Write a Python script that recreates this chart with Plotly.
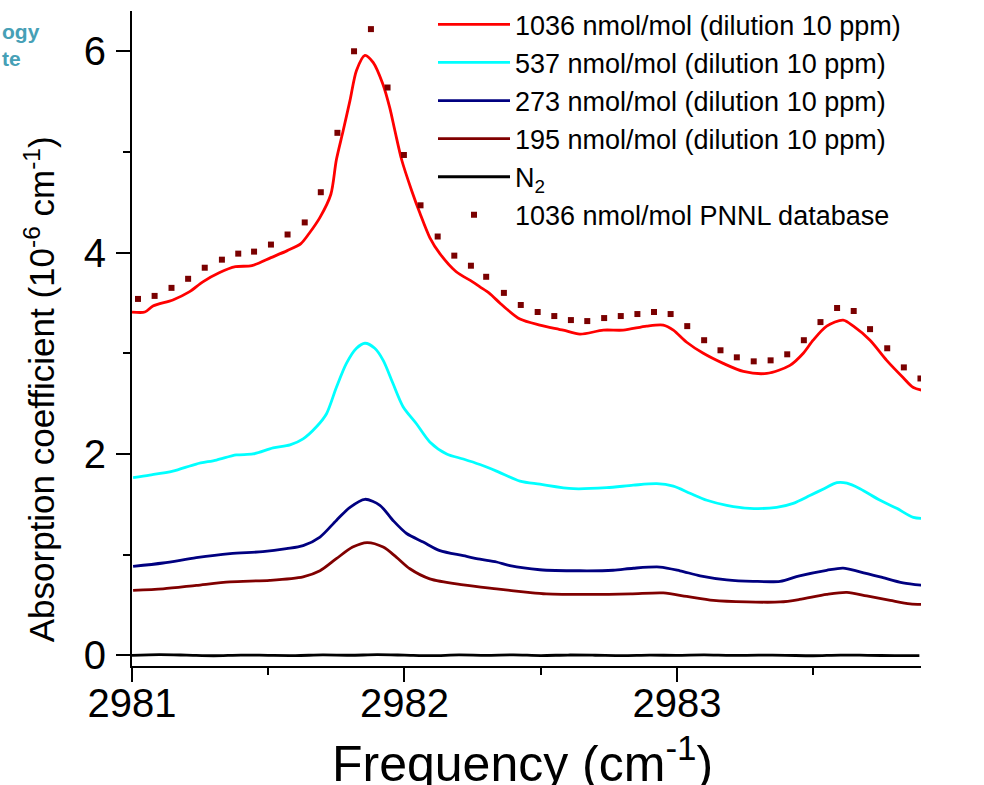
import plotly.graph_objects as go

# ---------------- data ----------------
red_x = [2981.00, 2981.047, 2981.077, 2981.15, 2981.21, 2981.26, 2981.32, 2981.38, 2981.44, 2981.51,
         2981.57, 2981.62, 2981.65, 2981.69, 2981.73, 2981.75, 2981.775, 2981.80, 2981.824, 2981.855,
         2981.885, 2981.92, 2981.946, 2981.965, 2981.99, 2982.026, 2982.057, 2982.093, 2982.13, 2982.19,
         2982.25, 2982.277, 2982.31, 2982.35, 2982.375, 2982.424, 2982.497, 2982.583, 2982.644, 2982.73,
         2982.803, 2982.889, 2982.95, 2982.987, 2983.036, 2983.097, 2983.17, 2983.244, 2983.33, 2983.415,
         2983.464, 2983.50, 2983.55, 2983.61, 2983.648, 2983.709, 2983.77, 2983.83, 2983.868, 2983.923]
red_y = [3.41, 3.41, 3.47, 3.53, 3.61, 3.71, 3.80, 3.86, 3.87, 3.95,
         4.02, 4.09, 4.19, 4.35, 4.58, 4.92, 5.21, 5.51, 5.81, 5.96,
         5.89, 5.68, 5.44, 5.21, 4.92, 4.62, 4.39, 4.15, 3.99, 3.81,
         3.71, 3.66, 3.60, 3.50, 3.44, 3.34, 3.28, 3.23, 3.19, 3.23,
         3.23, 3.27, 3.28, 3.23, 3.11, 3.00, 2.90, 2.82, 2.80, 2.88,
         3.00, 3.13, 3.27, 3.33, 3.27, 3.13, 2.93, 2.76, 2.66, 2.62]

cyan_x = [2981.004, 2981.065, 2981.15, 2981.236, 2981.31, 2981.383, 2981.444, 2981.518, 2981.58, 2981.628,
          2981.677, 2981.714, 2981.75, 2981.787, 2981.824, 2981.855, 2981.891, 2981.922, 2981.958, 2981.995,
          2982.044, 2982.093, 2982.155, 2982.216, 2982.277, 2982.338, 2982.424, 2982.497, 2982.62, 2982.742,
          2982.84, 2982.926, 2982.987, 2983.048, 2983.11, 2983.183, 2983.268, 2983.366, 2983.427, 2983.49,
          2983.54, 2983.587, 2983.624, 2983.672, 2983.746, 2983.807, 2983.868, 2983.923]
cyan_y = [1.765, 1.79, 1.83, 1.90, 1.94, 1.99, 2.00, 2.06, 2.09, 2.15,
          2.27, 2.40, 2.66, 2.90, 3.05, 3.10, 3.05, 2.93, 2.70, 2.47,
          2.30, 2.12, 2.00, 1.95, 1.895, 1.83, 1.73, 1.70, 1.655, 1.665,
          1.69, 1.705, 1.68, 1.61, 1.54, 1.49, 1.46, 1.47, 1.51, 1.59,
          1.655, 1.715, 1.71, 1.655, 1.54, 1.46, 1.37, 1.36]

navy_x = [2981.004, 2981.114, 2981.236, 2981.36, 2981.48, 2981.567, 2981.628, 2981.69, 2981.75, 2981.80,
          2981.855, 2981.91, 2981.958, 2982.008, 2982.069, 2982.13, 2982.216, 2982.277, 2982.338, 2982.387,
          2982.497, 2982.644, 2982.766, 2982.84, 2982.938, 2983.011, 2983.085, 2983.183, 2983.28, 2983.379,
          2983.45, 2983.55, 2983.61, 2983.672, 2983.746, 2983.83, 2983.923]
navy_y = [0.884, 0.917, 0.97, 1.01, 1.03, 1.06, 1.09, 1.175, 1.34, 1.47,
          1.55, 1.49, 1.34, 1.21, 1.125, 1.04, 0.99, 0.955, 0.927, 0.89,
          0.85, 0.84, 0.845, 0.865, 0.877, 0.84, 0.79, 0.75, 0.735, 0.735,
          0.79, 0.845, 0.867, 0.83, 0.78, 0.72, 0.69]

maroon_x = [2981.004, 2981.114, 2981.236, 2981.36, 2981.506, 2981.628, 2981.69, 2981.75, 2981.81, 2981.863,
            2981.922, 2981.97, 2982.02, 2982.093, 2982.216, 2982.338, 2982.454, 2982.52, 2982.68, 2982.83,
            2982.95, 2983.036, 2983.134, 2983.256, 2983.379, 2983.45, 2983.55, 2983.624, 2983.697, 2983.783,
            2983.856, 2983.923]
maroon_y = [0.645, 0.66, 0.695, 0.73, 0.745, 0.78, 0.84, 0.96, 1.075, 1.12,
            1.075, 0.976, 0.86, 0.76, 0.70, 0.66, 0.625, 0.61, 0.605, 0.61,
            0.62, 0.585, 0.545, 0.53, 0.53, 0.555, 0.605, 0.625, 0.59, 0.545,
            0.51, 0.505]

n2_x = [2981.00, 2981.10, 2981.20, 2981.30, 2981.40, 2981.50, 2981.60, 2981.70, 2981.80, 2981.90,
        2982.00, 2982.10, 2982.20, 2982.30, 2982.40, 2982.50, 2982.60, 2982.70, 2982.80, 2982.90,
        2983.00, 2983.10, 2983.20, 2983.30, 2983.40, 2983.50, 2983.60, 2983.70, 2983.80, 2983.89]
n2_y = [0.000, 0.006, 0.002, -0.004, 0.003, 0.000, -0.002, 0.004, 0.001, 0.006,
        0.002, -0.003, 0.004, 0.000, 0.005, -0.002, 0.003, 0.001, -0.003, 0.002,
        0.000, 0.004, -0.001, 0.002, 0.000, -0.004, 0.003, 0.000, -0.003, -0.002]

pnnl_x = [2981.022, 2981.083, 2981.145, 2981.206, 2981.267, 2981.33, 2981.39, 2981.448, 2981.51, 2981.571,
          2981.634, 2981.693, 2981.754, 2981.815, 2981.877, 2981.938, 2981.998, 2982.059, 2982.122, 2982.183,
          2982.244, 2982.30, 2982.365, 2982.427, 2982.489, 2982.55, 2982.611, 2982.671, 2982.733, 2982.794,
          2982.855, 2982.916, 2982.977, 2983.038, 2983.10, 2983.16, 2983.22, 2983.282, 2983.344, 2983.405,
          2983.466, 2983.527, 2983.588, 2983.649, 2983.709, 2983.772, 2983.833, 2983.894]
pnnl_y = [3.54, 3.57, 3.65, 3.74, 3.85, 3.93, 3.99, 4.01, 4.08, 4.18,
          4.30, 4.60, 5.19, 6.00, 6.22, 5.64, 4.97, 4.47, 4.16, 3.97,
          3.87, 3.76, 3.60, 3.48, 3.41, 3.37, 3.33, 3.32, 3.35, 3.37,
          3.39, 3.41, 3.39, 3.27, 3.13, 3.03, 2.96, 2.92, 2.93, 2.99,
          3.13, 3.31, 3.45, 3.42, 3.24, 3.05, 2.86, 2.75]

names = ["1036 nmol/mol (dilution 10 ppm)", "537 nmol/mol (dilution 10 ppm)",
         "273 nmol/mol (dilution 10 ppm)", "195 nmol/mol (dilution 10 ppm)",
         "N<sub>2</sub>", "1036 nmol/mol PNNL database"]
x_ticks = [2981, 2982, 2983]
y_ticks = [0, 2, 4, 6]

FONT = "Liberation Sans, Arial, sans-serif"

fig = go.Figure()
series = [(red_x, red_y, "#FF0000"), (cyan_x, cyan_y, "#00FFFF"), (navy_x, navy_y, "#000080"),
          (maroon_x, maroon_y, "#800000"), (n2_x, n2_y, "#000000")]
for (xs, ys, col), nm in zip(series, names[:5]):
    fig.add_trace(go.Scatter(x=xs, y=ys, mode="lines", name=nm,
                             line=dict(color=col, width=2.8, shape="spline", smoothing=0.8)))
fig.add_trace(go.Scatter(x=pnnl_x, y=pnnl_y, mode="markers", name=names[5],
                         marker=dict(symbol="square", size=6, color="#7A0000")))

axis_common = dict(showline=True, linewidth=2, linecolor="black", showgrid=False, zeroline=False,
                   ticks="outside", ticklen=14, tickwidth=2, tickcolor="black", automargin=False,
                   tickfont=dict(family=FONT, size=40, color="black"), mirror=False)

fig.update_xaxes(range=[2981.0, 2983.896], tickvals=x_ticks, ticktext=[str(v) for v in x_ticks],
                 minor=dict(dtick=0.5, tick0=2981, ticks="outside", ticklen=7, tickwidth=2, tickcolor="black"),
                 ticklabelstandoff=-13, **axis_common)
fig.update_yaxes(range=[-0.106, 6.40], tickvals=y_ticks, ticktext=[str(v) for v in y_ticks],
                 minor=dict(dtick=1, tick0=0, ticks="outside", ticklen=7, tickwidth=2, tickcolor="black"),
                 ticklabelstandoff=2, **axis_common)

# axis titles (placed as annotations to reproduce their exact positions)
fig.add_annotation(text="Frequency (cm<sup>-1</sup>)", xref="paper", yref="paper",
                   x=(522 - 132) / 789, y=(665.7 - 760) / 655,
                   xanchor="center", yanchor="middle", showarrow=False,
                   font=dict(family=FONT, size=50, color="black"))
fig.add_annotation(text="Absorption coefficient (10<sup>-6</sup> cm<sup>-1</sup>)", textangle=-90,
                   xref="paper", yref="paper", x=(40 - 132) / 789, y=(665.7 - 389) / 655,
                   xanchor="center", yanchor="middle", showarrow=False,
                   font=dict(family=FONT, size=35, color="black"))
fig.add_annotation(text="<b>ogy</b><br><b>te</b>", xref="paper", yref="paper",
                   x=-132 / 789, y=(665.7 - 45) / 655, align="left",
                   xanchor="left", yanchor="middle", showarrow=False,
                   font=dict(family=FONT, size=21, color="#46a0b6"))

fig.update_layout(
    width=984, height=785, autosize=False,
    margin=dict(l=132, r=63, t=11, b=119, autoexpand=False),
    paper_bgcolor="white", plot_bgcolor="white",
    showlegend=True,
    legend=dict(x=(433 - 132) / 789, y=(665.7 + 0) / 655, xanchor="left", yanchor="top",
                bgcolor="rgba(0,0,0,0)", borderwidth=0, itemwidth=72, tracegroupgap=0,
                font=dict(family=FONT, size=27, color="black")),
)

fig.write_html("out.html")
